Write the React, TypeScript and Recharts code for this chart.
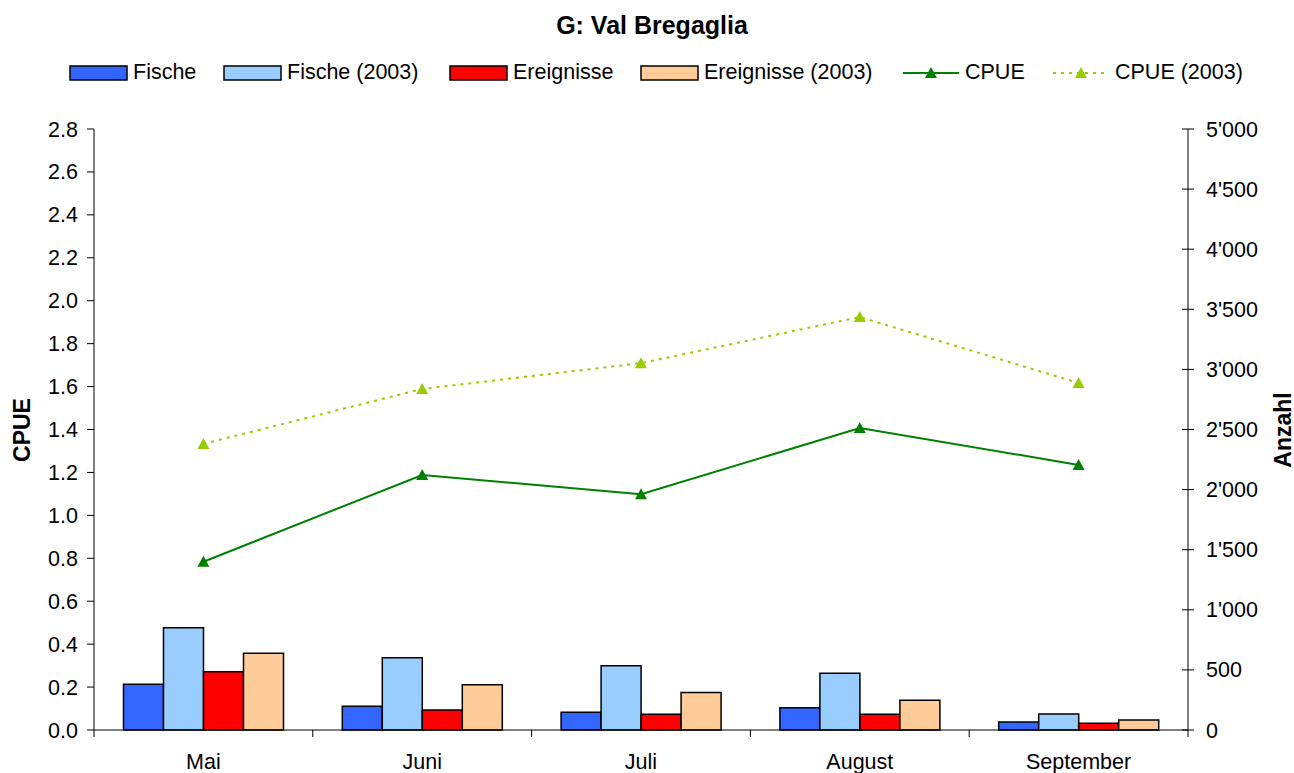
import React from "react";
import {
  ComposedChart,
  Bar,
  Line,
  XAxis,
  YAxis,
} from "recharts";

const months = ["Mai", "Juni", "Juli", "August", "September"];
const fische = [380, 197, 147, 186, 67];
const fische2003 = [851, 601, 535, 472, 133];
const ereignisse = [485, 166, 130, 130, 56];
const ereignisse2003 = [638, 377, 313, 247, 83];
const cpue = [0.784, 1.188, 1.098, 1.407, 1.235];
const cpue2003 = [1.333, 1.589, 1.709, 1.924, 1.617];

const leftTicks = [0, 0.2, 0.4, 0.6, 0.8, 1.0, 1.2, 1.4, 1.6, 1.8, 2.0, 2.2, 2.4, 2.6, 2.8];
const rightTicks = [0, 500, 1000, 1500, 2000, 2500, 3000, 3500, 4000, 4500, 5000];

const FONT = '"Liberation Sans", Arial, sans-serif';
const FS = 21.5;

const data = months.map((m, i) => ({
  month: m,
  fische: fische[i],
  fische2003: fische2003[i],
  ereignisse: ereignisse[i],
  ereignisse2003: ereignisse2003[i],
  cpue: cpue[i],
  cpue2003: cpue2003[i],
}));

const fmtThousands = (v: number) =>
  v >= 1000 ? `${Math.floor(v / 1000)}'${String(v % 1000).padStart(3, "0")}` : String(v);

const Triangle = (color: string) => (props: any) => {
  const { cx, cy, index } = props;
  if (cx == null || cy == null) return <g key={index} />;
  return (
    <path
      key={index}
      d={`M${cx},${cy - 6} L${cx + 6},${cy + 5} L${cx - 6},${cy + 5} Z`}
      fill={color}
    />
  );
};

const LeftTick = (props: any) => {
  const { x, y, payload } = props;
  return (
    <g>
      <line x1={x - 7} y1={y} x2={x} y2={y} stroke="#000" />
      <text x={x - 16} y={y} dy={7.5} textAnchor="end" fontSize={FS} fontFamily={FONT} fill="#000">
        {payload.value.toFixed(1)}
      </text>
    </g>
  );
};

const RightTick = (props: any) => {
  const { x, y, payload } = props;
  return (
    <g>
      <line x1={x - 6} y1={y} x2={x + 6} y2={y} stroke="#000" />
      <text x={x + 18} y={y} dy={7.5} textAnchor="start" fontSize={FS} fontFamily={FONT} fill="#000">
        {fmtThousands(payload.value)}
      </text>
    </g>
  );
};

const BottomTick = (props: any) => {
  const { x, y, payload, index, width, visibleTicksCount } = props;
  const band = width / visibleTicksCount;
  return (
    <g>
      <line x1={x - band / 2} y1={y} x2={x - band / 2} y2={y + 7} stroke="#000" />
      {index === visibleTicksCount - 1 && (
        <line x1={x + band / 2} y1={y} x2={x + band / 2} y2={y + 7} stroke="#000" />
      )}
      <text x={x} y={y + 39} textAnchor="middle" fontSize={FS} fontFamily={FONT} fill="#000">
        {payload.value}
      </text>
    </g>
  );
};

const legendItems = [
  { label: "Fische", color: "#3366FF", kind: "bar", left: 69 },
  { label: "Fische (2003)", color: "#99CCFF", kind: "bar", left: 223 },
  { label: "Ereignisse", color: "#FF0000", kind: "bar", left: 449 },
  { label: "Ereignisse (2003)", color: "#FFCC99", kind: "bar", left: 640 },
  { label: "CPUE", color: "#008000", kind: "line", left: 903 },
  { label: "CPUE (2003)", color: "#99CC00", kind: "dash", left: 1053 },
];

const ChartLegend = () => (
  <>
    {legendItems.map((it) => (
      <div
        key={it.label}
        style={{
          position: "absolute",
          left: it.left,
          top: 60,
          display: "flex",
          alignItems: "center",
          fontFamily: FONT,
          fontSize: FS,
          whiteSpace: "nowrap",
        }}
      >
        {it.kind === "bar" ? (
          <svg width={60} height={24}>
            <rect x={1} y={5} width={57} height={14} fill={it.color} stroke="#000" strokeWidth={1.5} />
          </svg>
        ) : (
          <svg width={58} height={24}>
            <line
              x1={0}
              y1={12}
              x2={56}
              y2={12}
              stroke={it.color}
              strokeWidth={2}
              strokeDasharray={it.kind === "dash" ? "3 5" : undefined}
            />
            <path d="M28,6 L34,17 L22,17 Z" fill={it.color} />
          </svg>
        )}
        <span style={{ marginLeft: 4 }}>{it.label}</span>
      </div>
    ))}
  </>
);

const axisTitle = (left: number, text: string) => (
  <div
    style={{
      position: "absolute",
      left,
      top: 430,
      transform: "translate(-50%, -50%) rotate(-90deg)",
      fontFamily: FONT,
      fontWeight: "bold",
      fontSize: 23,
      whiteSpace: "nowrap",
    }}
  >
    {text}
  </div>
);

export default function App() {
  return (
    <div style={{ position: "absolute", left: 0, top: 0, width: 1294, height: 773, background: "#fff" }}>
      <div
        style={{
          position: "absolute",
          left: 0,
          width: 1304,
          top: 11,
          textAlign: "center",
          fontFamily: FONT,
          fontWeight: "bold",
          fontSize: 25,
        }}
      >
        G: Val Bregaglia
      </div>
      <ChartLegend />
      {axisTitle(22, "CPUE")}
      {axisTitle(1283, "Anzahl")}
      <ComposedChart
        width={1294}
        height={773}
        data={data}
        margin={{ top: 129, right: 0, bottom: 0, left: 0 }}
        barCategoryGap={29.5}
        barGap={0}
      >
        <XAxis
          dataKey="month"
          height={43}
          interval={0}
          tickSize={0}
          tickMargin={0}
          tickLine={false}
          axisLine={{ stroke: "#000" }}
          tick={<BottomTick />}
        />
        <YAxis
          yAxisId="left"
          orientation="left"
          width={94}
          domain={[0, 2.8]}
          ticks={leftTicks}
          interval={0}
          tickSize={0}
          tickMargin={0}
          tickLine={false}
          axisLine={{ stroke: "#000" }}
          tick={<LeftTick />}
        />
        <YAxis
          yAxisId="right"
          orientation="right"
          width={106}
          domain={[0, 5000]}
          ticks={rightTicks}
          interval={0}
          tickSize={0}
          tickMargin={0}
          tickLine={false}
          axisLine={{ stroke: "#000" }}
          tick={<RightTick />}
        />
        <Bar yAxisId="right" dataKey="fische" fill="#3366FF" stroke="#000" strokeWidth={1.5} isAnimationActive={false} />
        <Bar yAxisId="right" dataKey="fische2003" fill="#99CCFF" stroke="#000" strokeWidth={1.5} isAnimationActive={false} />
        <Bar yAxisId="right" dataKey="ereignisse" fill="#FF0000" stroke="#000" strokeWidth={1.5} isAnimationActive={false} />
        <Bar yAxisId="right" dataKey="ereignisse2003" fill="#FFCC99" stroke="#000" strokeWidth={1.5} isAnimationActive={false} />
        <Line
          yAxisId="left"
          dataKey="cpue"
          stroke="#008000"
          strokeWidth={2}
          dot={Triangle("#008000")}
          activeDot={false}
          isAnimationActive={false}
        />
        <Line
          yAxisId="left"
          dataKey="cpue2003"
          stroke="#99CC00"
          strokeWidth={2}
          strokeDasharray="3 5"
          dot={Triangle("#99CC00")}
          activeDot={false}
          isAnimationActive={false}
        />
      </ComposedChart>
    </div>
  );
}
